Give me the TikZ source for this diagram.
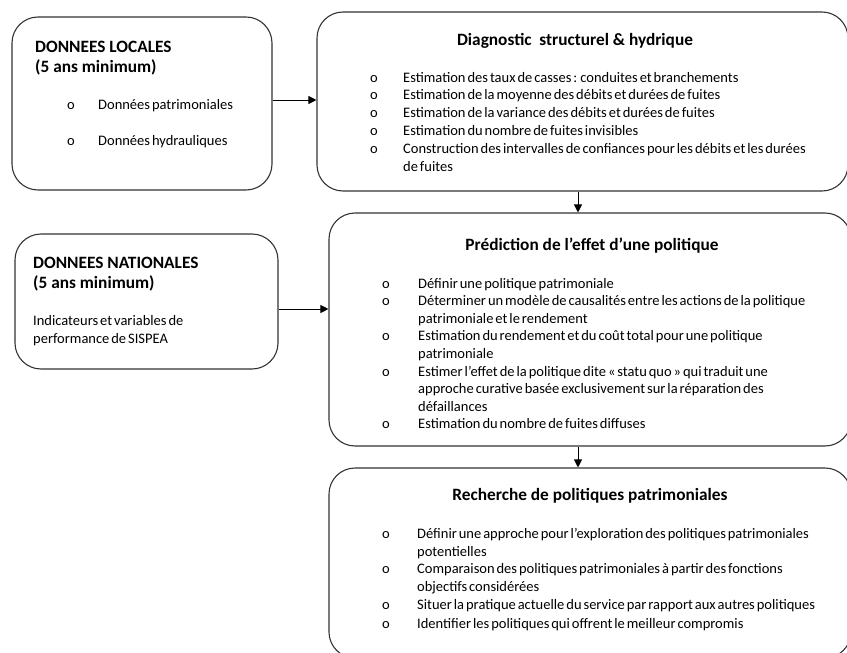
\documentclass[tikz,border=0pt]{standalone}
\usepackage{fontspec}
\setmainfont{Carlito}
\newfontfamily\bodyfam[WordSpace=0.6]{Carlito}
\usetikzlibrary{arrows.meta}
\tikzset{
  box/.style={draw=black!80, line width=1.1pt, rounded corners=26pt, inner sep=0pt},
  arr/.style={draw=black, line width=1pt, -{Triangle[length=8pt,width=8pt]}},
  txt/.style={anchor=base west, inner sep=0pt, font=\bodyfam\fontsize{14.5}{17}\selectfont},
  ttl/.style={anchor=base west, inner sep=0pt, font=\bfseries\fontsize{17.3}{20}\selectfont},
  ctl/.style={anchor=base, inner sep=0pt, font=\bfseries\fontsize{17.3}{20}\selectfont},
}
\begin{document}
\begin{tikzpicture}[x=1pt,y=-1pt]
\useasboundingbox (0,0) rectangle (847,653);
\clip (0,0) rectangle (847,653);
% boxes
\node[box, minimum width=260pt, minimum height=173pt] (loc) at (142,103.5) {};
\node[box, minimum width=531pt, minimum height=179pt] (diag) at (582.5,101.5) {};
\node[box, minimum width=263pt, minimum height=135pt] (nat) at (146.5,301.5) {};
\node[box, minimum width=522pt, minimum height=233pt] (pred) at (590,329.5) {};
\node[box, minimum width=522pt, minimum height=190pt] (rech) at (590,563) {};
\coordinate (ax) at (578,0);
% connectors
\draw[arr] ([yshift=3.5pt]loc.east) -- ([yshift=3.5pt]loc.east -| diag.west);
\draw[arr] ([yshift=-7.5pt]nat.east) -- ([yshift=-7.5pt]nat.east -| pred.west);
\draw[arr] (diag.south -| ax) -- (pred.north -| ax);
\draw[arr] (pred.south -| ax) -- (rech.north -| ax);
% box 1
\node[ttl] (t1a) at (35,52.5) {DONNEES LOCALES};
\node[ttl] (t1b) at (35,72.5) {(5 ans minimum)};
\node[txt] (b1a) at (67,109) {o};
\node[txt] (l1a) at (98,109) {Données patrimoniales};
\node[txt] (b1b) at (67,145) {o};
\node[txt] (l1b) at (98,145) {Données hydrauliques};
% box 2
\node[ctl] (t2) at (575,45.5) {Diagnostic\ \ structurel \& hydrique};
\node[txt] (b2a) at (370,82) {o};
\node[txt] (l2a) at (403,82) {Estimation des taux de casses : conduites et branchements};
\node[txt] (b2b) at (370,99.5) {o};
\node[txt] (l2b) at (403,99.5) {Estimation de la moyenne des débits et durées de fuites};
\node[txt] (b2c) at (370,117) {o};
\node[txt] (l2c) at (403,117) {Estimation de la variance des débits et durées de fuites};
\node[txt] (b2d) at (370,135) {o};
\node[txt] (l2d) at (403,135) {Estimation du nombre de fuites invisibles};
\node[txt] (b2e) at (370,153.5) {o};
\node[txt] (l2e) at (403,153.5) {Construction des intervalles de confiances pour les débits et les durées};
\node[txt] (l2f) at (403,171) {de fuites};
% national box
\node[ttl] (t3a) at (33,268.5) {DONNEES NATIONALES};
\node[ttl] (t3b) at (33,288.5) {(5 ans minimum)};
\node[txt] (l3a) at (33,325) {Indicateurs et variables de};
\node[txt] (l3b) at (33,343) {performance de SISPEA};
% box 3
\node[ctl] (t4) at (592,250.5) {Prédiction de l’effet d’une politique};
\node[txt] (b4a) at (382,288) {o};
\node[txt] (l4a) at (418,288) {Définir une politique patrimoniale};
\node[txt] (b4b) at (382,305.6) {o};
\node[txt] (l4b) at (418,305.6) {Déterminer un modèle de causalités entre les actions de la politique};
\node[txt] (l4c) at (418,323.2) {patrimoniale et le rendement};
\node[txt] (b4d) at (382,340.8) {o};
\node[txt] (l4d) at (418,340.8) {Estimation du rendement et du coût total pour une politique};
\node[txt] (l4e) at (418,358.4) {patrimoniale};
\node[txt] (b4f) at (382,376) {o};
\node[txt] (l4f) at (418,376) {Estimer l’effet de la politique dite « statu quo » qui traduit une};
\node[txt] (l4g) at (418,393.6) {approche curative basée exclusivement sur la réparation des};
\node[txt] (l4h) at (418,411.2) {défaillances};
\node[txt] (b4i) at (382,428.8) {o};
\node[txt] (l4i) at (418,428.8) {Estimation du nombre de fuites diffuses};
% box 4
\node[ctl] (t5) at (590,500) {Recherche de politiques patrimoniales};
\node[txt] (b5a) at (382,538) {o};
\node[txt] (l5a) at (417,538) {Définir une approche pour l’exploration des politiques patrimoniales};
\node[txt] (l5b) at (417,556) {potentielles};
\node[txt] (b5c) at (382,573.5) {o};
\node[txt] (l5c) at (417,573.5) {Comparaison des politiques patrimoniales à partir des fonctions};
\node[txt] (l5d) at (417,591.5) {objectifs considérées};
\node[txt] (b5e) at (382,609.5) {o};
\node[txt] (l5e) at (417,609.5) {Situer la pratique actuelle du service par rapport aux autres politiques};
\node[txt] (b5f) at (382,628) {o};
\node[txt] (l5f) at (417,628) {Identifier les politiques qui offrent le meilleur compromis};
\end{tikzpicture}
\end{document}
